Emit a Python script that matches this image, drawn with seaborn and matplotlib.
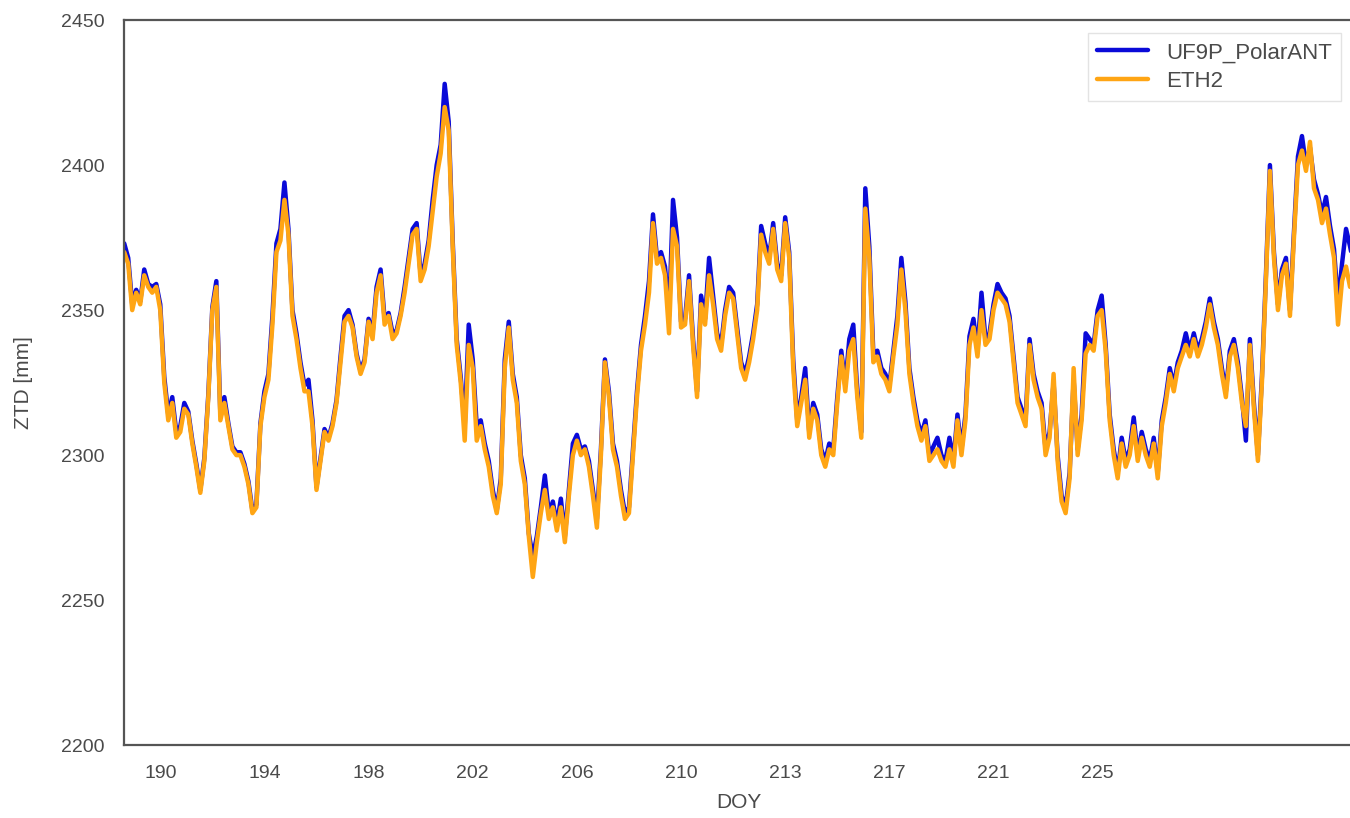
import numpy as np
import pandas as pd
import seaborn as sns
from matplotlib import pyplot as plt

# ZTD series, one sample every 0.15 day starting at DOY 189.15
t0 = 189.15
dt = 0.15

eth2 = [2370, 2366, 2350, 2356, 2352, 2362, 2358, 2356, 2358, 2350,
        2325, 2312, 2318, 2306, 2308, 2316, 2314, 2304, 2296, 2287,
        2298, 2320, 2350, 2358, 2312, 2318, 2310, 2302, 2300, 2300,
        2296, 2290, 2280, 2282, 2310, 2320, 2326, 2345, 2370, 2374,
        2388, 2376, 2348, 2340, 2330, 2322, 2322, 2310, 2288, 2298,
        2308, 2305, 2310, 2318, 2332, 2346, 2348, 2344, 2334, 2328,
        2332, 2346, 2340, 2356, 2362, 2345, 2348, 2340, 2342, 2348,
        2356, 2366, 2376, 2378, 2360, 2364, 2372, 2384, 2396, 2404,
        2420, 2412, 2372, 2338, 2325, 2305, 2338, 2330, 2305, 2310,
        2302, 2296, 2286, 2280, 2290, 2330, 2344, 2326, 2318, 2298,
        2290, 2272, 2258, 2270, 2280, 2288, 2278, 2282, 2274, 2282,
        2270, 2286, 2300, 2305, 2300, 2302, 2296, 2286, 2275, 2300,
        2332, 2320, 2302, 2296, 2286, 2278, 2280, 2300, 2320, 2336,
        2345, 2356, 2380, 2366, 2368, 2362, 2342, 2378, 2372, 2344,
        2345, 2360, 2338, 2320, 2352, 2345, 2362, 2352, 2340, 2336,
        2348, 2356, 2354, 2342, 2330, 2326, 2332, 2340, 2350, 2376,
        2370, 2366, 2378, 2364, 2360, 2380, 2368, 2330, 2310, 2318,
        2326, 2306, 2316, 2312, 2300, 2296, 2302, 2300, 2318, 2334,
        2322, 2336, 2340, 2320, 2306, 2385, 2368, 2332, 2334, 2328,
        2326, 2322, 2334, 2345, 2364, 2350, 2328, 2318, 2310, 2305,
        2310, 2298, 2300, 2302, 2298, 2296, 2302, 2296, 2312, 2300,
        2312, 2338, 2344, 2334, 2350, 2338, 2340, 2350, 2356, 2354,
        2352, 2346, 2332, 2318, 2314, 2310, 2338, 2326, 2320, 2316,
        2300, 2306, 2328, 2298, 2284, 2280, 2292, 2330, 2300, 2312,
        2335, 2338, 2336, 2348, 2350, 2336, 2312, 2300, 2292, 2304,
        2296, 2300, 2310, 2298, 2306, 2300, 2296, 2304, 2292, 2310,
        2318, 2328, 2322, 2330, 2334, 2338, 2334, 2340, 2334, 2338,
        2344, 2352, 2344, 2338, 2328, 2320, 2334, 2338, 2330, 2318,
        2310, 2338, 2316, 2298, 2325, 2360, 2398, 2368, 2350, 2362,
        2366, 2348, 2375, 2400, 2405, 2398, 2408, 2392, 2388, 2380,
        2385, 2376, 2368, 2345, 2360, 2365, 2358, 2360]

uf9p = [2373, 2368, 2352, 2357, 2353, 2364, 2359, 2358, 2359, 2352,
        2327, 2314, 2320, 2308, 2310, 2318, 2315, 2305, 2297, 2288,
        2299, 2321, 2351, 2360, 2314, 2320, 2311, 2303, 2301, 2301,
        2297, 2291, 2281, 2283, 2311, 2322, 2328, 2348, 2373, 2378,
        2394, 2378, 2350, 2342, 2332, 2324, 2326, 2312, 2289, 2299,
        2309, 2306, 2311, 2319, 2334, 2348, 2350, 2345, 2335, 2329,
        2333, 2347, 2342, 2358, 2364, 2347, 2349, 2342, 2343, 2349,
        2358, 2368, 2378, 2380, 2362, 2366, 2374, 2388, 2400, 2407,
        2428, 2415, 2374, 2340, 2327, 2310, 2345, 2333, 2310, 2312,
        2304, 2298, 2288, 2281, 2292, 2333, 2346, 2328, 2320, 2300,
        2292, 2273, 2265, 2272, 2282, 2293, 2280, 2284, 2276, 2285,
        2272, 2288, 2304, 2307, 2302, 2303, 2298, 2288, 2278, 2302,
        2333, 2322, 2304, 2298, 2288, 2280, 2282, 2302, 2322, 2338,
        2348, 2360, 2383, 2368, 2370, 2365, 2348, 2388, 2375, 2346,
        2347, 2362, 2340, 2322, 2355, 2347, 2368, 2355, 2342, 2338,
        2350, 2358, 2356, 2344, 2332, 2328, 2334, 2342, 2352, 2379,
        2373, 2368, 2380, 2366, 2362, 2382, 2370, 2333, 2312, 2320,
        2330, 2308, 2318, 2314, 2302, 2298, 2304, 2302, 2320, 2336,
        2324, 2340, 2345, 2322, 2308, 2392, 2372, 2335, 2336, 2330,
        2328, 2324, 2336, 2348, 2368, 2353, 2330, 2320, 2312, 2307,
        2312, 2300, 2303, 2306, 2300, 2298, 2306, 2298, 2314, 2302,
        2314, 2341, 2347, 2336, 2356, 2340, 2342, 2352, 2359, 2356,
        2354, 2348, 2334, 2320, 2316, 2312, 2340, 2328, 2322, 2318,
        2302, 2308, 2325, 2300, 2286, 2282, 2294, 2326, 2302, 2314,
        2342, 2340, 2338, 2350, 2355, 2338, 2314, 2302, 2294, 2306,
        2298, 2302, 2313, 2300, 2308, 2302, 2298, 2306, 2294, 2312,
        2320, 2330, 2324, 2332, 2336, 2342, 2336, 2342, 2336, 2340,
        2346, 2354, 2346, 2340, 2330, 2322, 2336, 2340, 2332, 2320,
        2305, 2340, 2318, 2300, 2327, 2362, 2400, 2370, 2352, 2364,
        2368, 2350, 2377, 2403, 2410, 2400, 2406, 2395, 2390, 2383,
        2389, 2379, 2371, 2352, 2366, 2378, 2372, 2365]

tick_pos = [190.5, 194.4, 198.3, 202.2, 206.1, 210.0, 213.9, 217.8, 221.7, 225.6]
tick_labels = ["190", "194", "198", "202", "206", "210", "213", "217", "221", "225"]
y_ticks = [2200, 2250, 2300, 2350, 2400, 2450]

doy = t0 + dt * np.arange(len(eth2))
df = pd.concat([
    pd.DataFrame({"DOY": doy, "ZTD": uf9p, "Solution": "UF9P_PolarANT"}),
    pd.DataFrame({"DOY": doy, "ZTD": eth2, "Solution": "ETH2"}),
])

sns.set_style("white")
plt.rcParams["font.family"] = ["Liberation Sans", "DejaVu Sans"]

fig = plt.figure(figsize=(13.5, 8.18), dpi=100)
ax = fig.add_axes([0.092, 0.089, 0.911, 0.8865])

sns.lineplot(data=df, x="DOY", y="ZTD", hue="Solution",
             palette={"UF9P_PolarANT": "#0a0ad8", "ETH2": "#ffa514"},
             linewidth=3.2, estimator=None, sort=False, ax=ax)

ax.set_xlim(doy[0], doy[-1])
ax.set_ylim(2200, 2450)
ax.set_xticks(tick_pos)
ax.set_xticklabels(tick_labels)
ax.set_yticks(y_ticks)
ax.tick_params(labelsize=14, colors="#4a4a4a", length=0, pad=14)
ax.set_xlabel("DOY", fontsize=15, color="#4a4a4a", labelpad=8)
ax.set_ylabel("ZTD [mm]", fontsize=15, color="#4a4a4a", labelpad=20)
for s in ax.spines.values():
    s.set_color("#555555")
    s.set_linewidth(1.6)

leg = ax.legend(loc="upper right", fontsize=16, handlelength=2.3,
                handletextpad=0.8, frameon=True, fancybox=False,
                borderaxespad=0.6, labelspacing=0.35)
leg.get_frame().set_edgecolor("#dddddd")
for t in leg.get_texts():
    t.set_color("#4a4a4a")

fig.savefig("out.png", dpi=100)
